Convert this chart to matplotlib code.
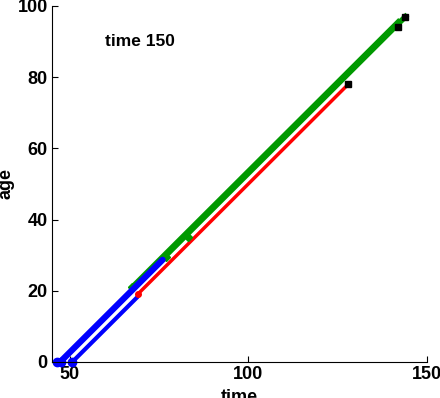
import matplotlib
matplotlib.use('Agg')
import matplotlib.pyplot as plt

plt.rcParams['font.family'] = ['Liberation Sans', 'DejaVu Sans']
plt.rcParams['font.weight'] = 'bold'

# individual trajectories: (time, age)
blue1_time = [47.3, 76]
blue1_age = [0, 28.7]
blue2_time = [50.7, 69]
blue2_age = [0, 18.3]
blue_start_time = [46.5, 47.5, 50.5]
blue_start_age = [0, 0, 0]

red_time = [69, 128]
red_age = [19, 78]

green1_time = [67.5, 142]
green1_age = [21, 95.5]
green2_time = [76.5, 144]
green2_age = [29.5, 97]
green_mark_time = [67.5, 77, 83]
green_mark_age = [21, 29.5, 35]

end_time = [128, 142, 144]
end_age = [78, 94, 97]

fig = plt.figure(figsize=(4.4, 3.98), dpi=100)
ax = fig.add_axes([0.118, 0.0905, 0.852, 0.8945])

ax.plot(red_time, red_age, color='#ff0000', lw=2.5)
ax.plot(green1_time, green1_age, color='#009900', lw=4)
ax.plot(green2_time, green2_age, color='#009900', lw=4)
ax.plot(green_mark_time, green_mark_age, 'D', color='#009900', ms=4)
ax.plot(blue2_time, blue2_age, color='#0000ff', lw=3, solid_capstyle='round')
ax.plot(blue1_time, blue1_age, color='#0000ff', lw=4.5, solid_capstyle='round')
ax.plot(blue_start_time, blue_start_age, 'o', color='#0000ff', ms=6, clip_on=False)
ax.plot(red_time[:1], red_age[:1], 'o', color='#ff0000', ms=4)
ax.plot(end_time, end_age, 's', color='black', ms=5)

ax.text(60, 90, 'time 150', fontsize=12.5, fontweight='bold', va='center', ha='left')

ax.set_xlim(45, 150)
ax.set_ylim(0, 100)
ax.set_xticks([50, 100, 150])
ax.set_yticks([0, 20, 40, 60, 80, 100])
ax.tick_params(direction='in', labelsize=13, length=4, pad=3)
ax.spines['top'].set_visible(False)
ax.spines['right'].set_visible(False)
ax.set_xlabel('time', fontsize=13, fontweight='bold', labelpad=4)
ax.set_ylabel('age', fontsize=13, fontweight='bold', labelpad=2)
for lab in ax.get_xticklabels() + ax.get_yticklabels():
    lab.set_fontweight('bold')

fig.savefig('out.png', dpi=100)
